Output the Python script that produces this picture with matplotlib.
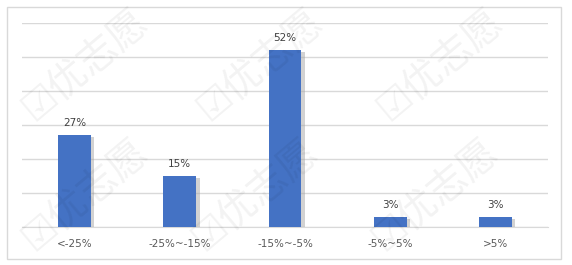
import matplotlib.pyplot as plt
import matplotlib.patheffects as pe
from matplotlib.patches import Rectangle

categories = ['<-25%', '-25%~-15%', '-15%~-5%', '-5%~5%', '>5%']
values = [27, 15, 52, 3, 3]
labels = ['27%', '15%', '52%', '3%', '3%']

plt.rcParams['font.family'] = ['DejaVu Sans']

fig = plt.figure(figsize=(5.72, 2.65), dpi=100)
W, H = 572, 265

# outer chart border
fig.patches.append(Rectangle((7 / W, 1 - 259 / H), (561 - 7) / W, (259 - 7) / H,
                             transform=fig.transFigure, fill=False,
                             edgecolor='#d9d9d9', linewidth=1.0))

# watermark
for (wx, wy) in [(85, 65), (260, 65), (440, 65), (85, 195), (255, 195), (435, 195)]:
    fig.text(wx / W, 1 - wy / H, '☑优志愿', rotation=40, ha='center', va='center',
             fontsize=28, color='#000000', alpha=0.05,
             family=['Noto Sans CJK SC', 'DejaVu Sans'], zorder=10)

ax = fig.add_axes([22 / W, 1 - 227 / H, (548 - 22) / W, (227 - 23) / H])
x = range(len(categories))
bars = ax.bar(x, values, width=0.31, color='#4472c4', zorder=3)
for b in bars:
    b.set_path_effects([pe.SimplePatchShadow(offset=(2.5, -1.5), shadow_rgbFace='#a6a6a6', alpha=0.5),
                        pe.Normal()])

ax.set_xlim(-0.5, len(categories) - 0.5)
ax.set_ylim(0, 60)
ax.set_yticks(range(0, 61, 10))
ax.yaxis.grid(True, color='#d9d9d9', linewidth=1.0, zorder=0)
ax.set_axisbelow(True)
ax.tick_params(left=False, bottom=False, labelleft=False)
ax.set_xticks(list(x))
ax.set_xticklabels(categories, fontsize=7.5, color='#595959')
ax.tick_params(axis='x', pad=5)
for s in ax.spines.values():
    s.set_visible(False)
ax.spines['bottom'].set_visible(True)
ax.spines['bottom'].set_color('#d9d9d9')

for i, (v, lab) in enumerate(zip(values, labels)):
    ax.annotate(lab, (i, v), xytext=(0, 5), textcoords='offset points',
                ha='center', va='bottom', fontsize=7.5, color='#404040')

fig.savefig('out.png', dpi=100)
